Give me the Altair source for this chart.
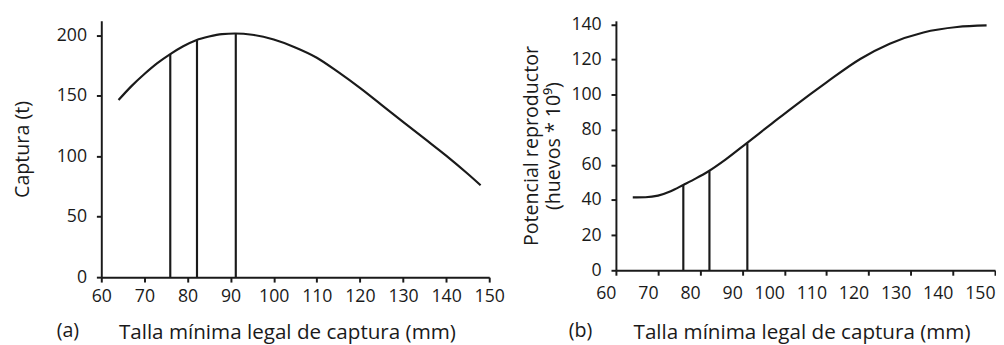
import altair as alt
import pandas as pd

# Panel (a): captura vs talla mínima legal
x_catch = [64, 67, 70, 73, 76, 79, 82, 85, 88, 91, 95, 100, 105, 110, 115, 120, 125, 130, 135, 140, 145, 148]
y_catch = [146.5, 158, 168, 177, 184.5, 191, 196, 199, 201, 201.5, 200.5, 196.5, 190, 181.5, 169.5, 156.5, 142.5, 128.5, 114.5, 100.5, 85.5, 76]

# Panel (b): potencial reproductor vs talla mínima legal
x_eggs = [64, 67, 70, 73, 76, 79, 82, 86, 91, 97, 102, 110, 118, 125, 133, 141, 148]
y_eggs = [41.5, 41.6, 42.5, 45, 48.6, 52.3, 56.4, 63, 72.3, 83.5, 92.8, 107, 120.3, 129, 135.4, 138.5, 139.4]

# Vertical marker lines (talla, valor en cada panel)
x_marks = [76, 82.2, 91.2]
y_marks_a = [184.5, 196, 201.5]
y_marks_b = [48.6, 56.4, 72.3]

x_ticks = [60, 70, 80, 90, 100, 110, 120, 130, 140, 150]
y_ticks_a = [0, 50, 100, 150, 200]
y_ticks_b = [0, 20, 40, 60, 80, 100, 120, 140]

x_title = "Talla mínima legal de captura (mm)"
y_title_a = "Captura (t)"
y_title_b = ["Potencial reproductor", "(huevos * 10⁹)"]

FONT = "Open Sans"
INK = "#1a1a1a"

df_a = pd.DataFrame({"x": x_catch, "y": y_catch})
df_b = pd.DataFrame({"x": x_eggs, "y": y_eggs})
dm_a = pd.DataFrame({"x": x_marks, "y": y_marks_a})
dm_b = pd.DataFrame({"x": x_marks, "y": y_marks_b})


def panel(df, dm, ydom, yticks, ytitle, tag, w, h, label_pad, label_align,
          title_pad_x, title_pad_y, tag_xy):
    xs = alt.Scale(domain=[60, 150], nice=False, zero=False)
    ys = alt.Scale(domain=ydom, nice=False, zero=True)
    xaxis = alt.Axis(values=x_ticks, title=x_title, labelPadding=label_pad,
                     labelAlign=label_align,
                     titlePadding=title_pad_x, titleX=189, titleAnchor="start", titleAlign="center")
    yaxis = alt.Axis(values=yticks, title=ytitle, titlePadding=title_pad_y)
    line = alt.Chart(df).mark_line(color=INK, strokeWidth=2.2, interpolate="monotone").encode(
        x=alt.X("x:Q", scale=xs, axis=xaxis),
        y=alt.Y("y:Q", scale=ys, axis=yaxis),
    )
    rules = alt.Chart(dm).mark_rule(color=INK, strokeWidth=2.2).encode(
        x=alt.X("x:Q", scale=xs, axis=xaxis),
        y=alt.Y("y:Q", scale=ys, axis=yaxis),
        y2=alt.datum(0),
    )
    label = alt.Chart(pd.DataFrame({"t": [tag]})).mark_text(
        font=FONT, fontSize=20, color=INK, align="center", baseline="middle"
    ).encode(text="t:N", x=alt.value(tag_xy[0]), y=alt.value(tag_xy[1]))
    return alt.layer(line, rules, label).properties(width=w, height=h)


left = panel(df_a, dm_a, [0, 212], y_ticks_a, y_title_a, "(a)", 395, 261, 6, "center",
             16, 24, (-34, 316))
right = panel(df_b, dm_b, [0, 142], y_ticks_b, y_title_b, "(b)", 386, 254, 10, "right",
              19, 8, (-36, 316))

chart = alt.hconcat(left, right, spacing=17).properties(
    padding={"left": 5, "top": 4, "right": 0, "bottom": 0}
).configure_view(stroke=None).configure_axis(
    grid=False,
    domainColor=INK, domainWidth=2,
    tickColor=INK, tickWidth=2, tickSize=5,
    labelFont=FONT, labelFontSize=18, labelColor=INK,
    labelOverlap=False, labelBound=False,
    titleFont=FONT, titleFontWeight="normal", titleColor=INK,
    titleLineHeight=22,
).configure_axisX(titleFontSize=21).configure_axisY(labelPadding=10, titleFontSize=20)

chart.save("out.html", embed_options={"renderer": "svg", "actions": False})
